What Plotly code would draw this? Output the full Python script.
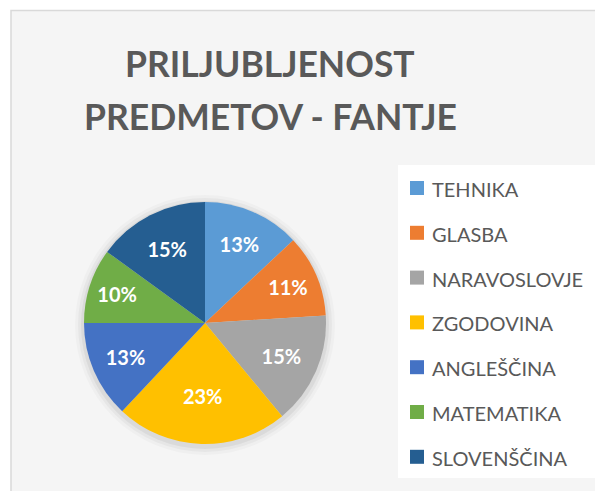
import plotly.graph_objects as go

# ---- data ----
labels = ["TEHNIKA", "GLASBA", "NARAVOSLOVJE", "ZGODOVINA", "ANGLEŠČINA", "MATEMATIKA", "SLOVENŠČINA"]
values = [13, 11, 15, 23, 13, 10, 15]
colors = ["#5B9BD5", "#ED7D31", "#A5A5A5", "#FFC000", "#4472C4", "#70AD47", "#255E91"]
title_lines = ["PRILJUBLJENOST", "PREDMETOV - FANTJE"]

W, H = 603, 491
OX, OY = 8, 8  # page body margin offset

def px(x):
    return (x - OX) / W

def py(y):
    return 1 - (y - OY) / H

# pie geometry (page pixels)
cx, cy, R = 205, 323, 121

fig = go.Figure()
fig.add_trace(go.Pie(
    labels=labels, values=values, sort=False, direction="clockwise", rotation=0,
    marker=dict(colors=colors, line=dict(color="#ffffff", width=0)),
    texttemplate="%{percent:.0%}", textposition="inside", insidetextorientation="horizontal",
    textfont=dict(family="Lato", size=20, color="#ffffff", weight="bold"),
    domain=dict(x=[px(cx - R), px(cx + R)], y=[py(cy + R), py(cy - R)]),
    showlegend=False, hoverinfo="label+percent",
))

shapes = []
# chart frame background
shapes.append(dict(type="rect", xref="paper", yref="paper", x0=px(11), x1=px(W + 20), y0=py(H + 20), y1=py(10.5),
                   fillcolor="#f5f5f5", line=dict(color="#d9d9d9", width=1.5), layer="below"))
# soft shadow around pie
for dr, op in [(9, 0.025), (6, 0.035), (3, 0.05)]:
    shapes.append(dict(type="circle", xref="paper", yref="paper",
                       x0=px(cx - R - dr), x1=px(cx + R + dr), y0=py(cy + R + dr + 2), y1=py(cy - R - dr + 2),
                       fillcolor=f"rgba(0,0,0,{op})", line=dict(width=0), layer="below"))
# legend box
shapes.append(dict(type="rect", xref="paper", yref="paper", x0=px(398), x1=px(597), y0=py(478), y1=py(165),
                   fillcolor="#ffffff", line=dict(width=0), layer="below"))

annotations = []
# title
for i, t in enumerate(title_lines):
    annotations.append(dict(text=f"<b>{t}</b>", xref="paper", yref="paper", x=px(270), y=py(63 + 54 * i),
                            xanchor="center", yanchor="middle", showarrow=False,
                            font=dict(family="Lato", size=35.5, color="#595959")))
# legend entries
ly0, dy = 188, 44.8
for i, (lab, col) in enumerate(zip(labels, colors)):
    yc = ly0 + dy * i
    shapes.append(dict(type="rect", xref="paper", yref="paper", x0=px(410), x1=px(424), y0=py(yc + 7), y1=py(yc - 7),
                       fillcolor=col, line=dict(width=0)))
    annotations.append(dict(text=lab, xref="paper", yref="paper", x=px(430), y=py(yc + 1),
                            xanchor="left", yanchor="middle", showarrow=False,
                            font=dict(family="Lato", size=20, color="#595959")))

fig.update_layout(
    width=W, height=H, margin=dict(l=0, r=0, t=0, b=0),
    paper_bgcolor="#ffffff", plot_bgcolor="#ffffff",
    shapes=shapes, annotations=annotations, showlegend=False,
)

fig.write_html("out.html")
